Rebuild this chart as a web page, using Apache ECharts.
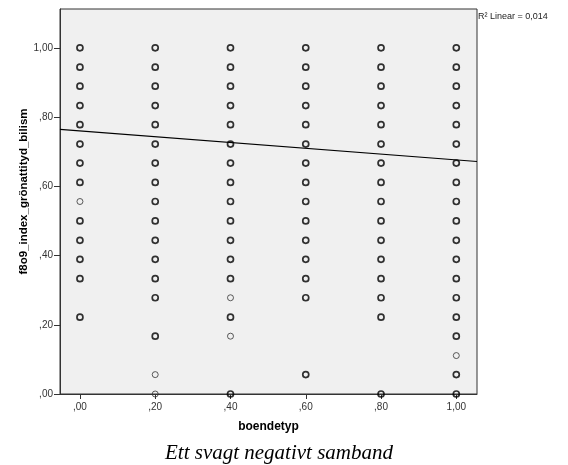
<!DOCTYPE html>
<html>
<head>
<meta charset="utf-8">
<script src="https://cdn.jsdelivr.net/npm/echarts@6/dist/echarts.min.js"></script>
<style>
html,body{margin:0;padding:0;background:#fff;}
#c{width:568px;height:465px;}
</style>
</head>
<body>
<div id="c"></div>
<script>
// categories (boendetyp values)
var boendetyp = [0.00, 0.20, 0.40, 0.60, 0.80, 1.00];
// observed index values per boendetyp column (dark, overlapping markers)
var col000 = [1.000, 0.944, 0.889, 0.833, 0.778, 0.722, 0.667, 0.611, 0.500, 0.444, 0.389, 0.333, 0.222];
var col020 = [1.000, 0.944, 0.889, 0.833, 0.778, 0.722, 0.667, 0.611, 0.556, 0.500, 0.444, 0.389, 0.333, 0.278, 0.167];
var col040 = [1.000, 0.944, 0.889, 0.833, 0.778, 0.722, 0.667, 0.611, 0.556, 0.500, 0.444, 0.389, 0.333, 0.222, 0.000];
var col060 = [1.000, 0.944, 0.889, 0.833, 0.778, 0.722, 0.667, 0.611, 0.556, 0.500, 0.444, 0.389, 0.333, 0.278, 0.056];
var col080 = [1.000, 0.944, 0.889, 0.833, 0.778, 0.722, 0.667, 0.611, 0.556, 0.500, 0.444, 0.389, 0.333, 0.278, 0.222, 0.000];
var col100 = [1.000, 0.944, 0.889, 0.833, 0.778, 0.722, 0.667, 0.611, 0.556, 0.500, 0.444, 0.389, 0.333, 0.278, 0.222, 0.167, 0.056, 0.000];
// single-case (faint) markers per column
var faint000 = [0.556];
var faint020 = [0.056, 0.000];
var faint040 = [0.278, 0.167];
var faint060 = [];
var faint080 = [];
var faint100 = [0.111];
// linear fit
var fitIntercept = 0.760;
var fitSlope = -0.084;
var r2Text = 'R² Linear = 0,014';
var xName = 'boendetyp';
var yName = 'f8o9_index_grönattityd_bilism';
var caption = 'Ett svagt negativt samband';
// axis ticks
var xTicks = [0.00, 0.20, 0.40, 0.60, 0.80, 1.00];
var yTicks = [0.00, 0.20, 0.40, 0.60, 0.80, 1.00];
var xMin = -0.053, xMax = 1.055;
var yMin = 0, yMax = 1.112;

var darkCols = [col000, col020, col040, col060, col080, col100];
var faintCols = [faint000, faint020, faint040, faint060, faint080, faint100];
function pts(cols) {
  var out = [];
  cols.forEach(function (c, i) { c.forEach(function (v) { out.push([boendetyp[i], v]); }); });
  return out;
}
function fmt(v) {
  return v.toFixed(2).replace('.', ',').replace(/^0/, '');
}
var fitLine = [[xMin, fitIntercept + fitSlope * xMin], [xMax, fitIntercept + fitSlope * xMax]];

var chart = echarts.init(document.getElementById('c'), null, {renderer: 'canvas'});
chart.setOption({
  animation: false,
  backgroundColor: '#ffffff',
  grid: {left: 60, top: 9, right: 91, bottom: 71, show: true, backgroundColor: '#f0f0f0', borderColor: '#333', borderWidth: 1},
  xAxis: {
    type: 'value', min: xMin, max: xMax,
    name: xName, nameLocation: 'middle', nameGap: 27,
    nameTextStyle: {fontFamily: 'Liberation Sans', fontWeight: 'bold', fontSize: 12, color: '#000'},
    axisLine: {show: true, onZero: false, lineStyle: {color: '#333', width: 1}},
    axisTick: {show: true, length: 5, customValues: xTicks, lineStyle: {color: '#333'}},
    axisLabel: {customValues: xTicks, formatter: fmt, margin: 8, fontFamily: 'Liberation Sans', fontSize: 10, color: '#333'},
    splitLine: {show: false}
  },
  yAxis: {
    type: 'value', min: yMin, max: yMax,
    axisLine: {show: true, onZero: false, lineStyle: {color: '#333', width: 1}},
    axisTick: {show: true, length: 6, customValues: yTicks, lineStyle: {color: '#333'}},
    axisLabel: {customValues: yTicks, formatter: fmt, margin: 7, fontFamily: 'Liberation Sans', fontSize: 10, color: '#333'},
    splitLine: {show: false}
  },
  series: [
    {
      type: 'line', data: fitLine, symbol: 'none', silent: true,
      lineStyle: {color: '#000', width: 1.1}, z: 1
    },
    {
      type: 'scatter', data: pts(faintCols), symbol: 'circle', symbolSize: 6, clip: false,
      itemStyle: {color: 'rgba(0,0,0,0)', borderColor: '#333', borderWidth: 1}, z: 3
    },
    {
      type: 'scatter', data: pts(darkCols), symbol: 'circle', symbolSize: 6, clip: false,
      itemStyle: {color: 'rgba(0,0,0,0)', borderColor: '#000', borderWidth: 1.7}, z: 3
    }
  ],
  graphic: [
    {type: 'text', x: 24, y: 191.5, rotation: Math.PI / 2,
      style: {text: yName, fontFamily: 'Liberation Sans', fontWeight: 'bold', fontSize: 11.5, fill: '#000', textAlign: 'center', textVerticalAlign: 'middle'}},
    {type: 'text', left: 478, top: 12, style: {text: r2Text, fontFamily: 'Liberation Sans', fontSize: 9, fill: '#222'}},
    {type: 'text', x: 279, y: 453,
      style: {text: caption, fontFamily: 'Liberation Serif', fontStyle: 'italic', fontSize: 21, fill: '#000', textAlign: 'center', textVerticalAlign: 'middle'}}
  ]
});
</script>
</body>
</html>
